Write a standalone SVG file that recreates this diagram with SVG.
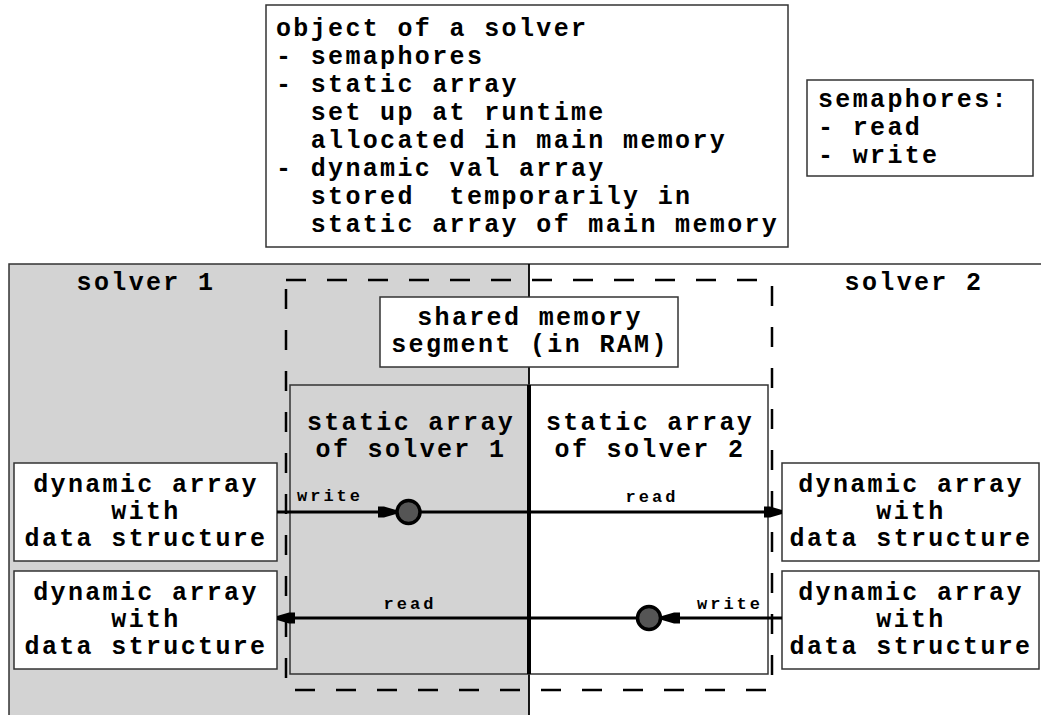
<svg xmlns="http://www.w3.org/2000/svg" width="1041" height="715" viewBox="0 0 1041 715">
<style>
text{font-family:"Liberation Mono","DejaVu Sans Mono",monospace;font-weight:bold;fill:#000}
.t{font-size:25px;letter-spacing:2.35px}
.c{text-anchor:middle}
.s{font-size:17px;letter-spacing:3px}
.box{fill:#fff;stroke:#333;stroke-width:1.5}
.conn{stroke:#000;stroke-width:3.2;fill:none}
.sem{fill:#555;stroke:#000;stroke-width:3.5}
</style>
<defs>
<marker id="arr" viewBox="0 0 18 12" refX="18" refY="6" markerWidth="18" markerHeight="12" markerUnits="userSpaceOnUse" orient="auto">
<path d="M0,0.5 L6,0.5 L18,4 L18,8 L6,11.5 L0,11.5 z" fill="#000"/>
</marker>
</defs>
<rect width="1041" height="715" fill="#fff"/>

<g id="solver1-area">
<rect x="9" y="264" width="520" height="460" fill="#d3d3d3"/>
<path d="M9,715 V264 H1045" fill="none" stroke="#333" stroke-width="1.5"/>
<line x1="529" y1="264" x2="529" y2="715" stroke="#000" stroke-width="1.8"/>
<text class="t c" x="146" y="290">solver 1</text>
</g>
<g id="solver2-area">
<text class="t c" x="914" y="290">solver 2</text>
</g>

<g id="shared-segment">
<rect x="286" y="280" width="486" height="410" fill="none" stroke="#000" stroke-width="2.5" stroke-dasharray="20 21"/>
</g>
<g id="shared-label">
<rect class="box" x="380" y="297" width="298" height="70"/>
<text class="t c" x="530" y="325">shared memory</text>
<text class="t c" x="530" y="352">segment (in RAM)</text>
</g>

<g id="static1">
<rect x="290" y="385" width="239" height="289" fill="#d3d3d3" stroke="#333" stroke-width="1.5"/>
<text class="t c" x="411" y="430">static array</text>
<text class="t c" x="411" y="457">of solver 1</text>
</g>
<g id="static2">
<rect x="529" y="385" width="239" height="289" fill="#fff" stroke="#333" stroke-width="1.5"/>
<text class="t c" x="650" y="430">static array</text>
<text class="t c" x="650" y="457">of solver 2</text>
</g>
<line x1="529" y1="385" x2="529" y2="674" stroke="#000" stroke-width="4"/>

<g id="object-box">
<rect class="box" x="266" y="5" width="522" height="242"/>
<text class="t" x="276" y="36" xml:space="preserve">object of a solver</text>
<text class="t" x="276" y="64" xml:space="preserve">- semaphores</text>
<text class="t" x="276" y="92" xml:space="preserve">- static array</text>
<text class="t" x="276" y="120" xml:space="preserve">  set up at runtime</text>
<text class="t" x="276" y="148" xml:space="preserve">  allocated in main memory</text>
<text class="t" x="276" y="176" xml:space="preserve">- dynamic val array</text>
<text class="t" x="276" y="204" xml:space="preserve">  stored  temporarily in</text>
<text class="t" x="276" y="232" xml:space="preserve">  static array of main memory</text>
</g>

<g id="semaphores-box">
<rect class="box" x="807" y="80" width="226" height="96"/>
<text class="t" x="818" y="107" xml:space="preserve">semaphores:</text>
<text class="t" x="818" y="135" xml:space="preserve">- read</text>
<text class="t" x="818" y="163" xml:space="preserve">- write</text>
</g>

<g id="dyn-left-top">
<rect class="box" x="14" y="463" width="263" height="98"/>
<text class="t c" x="146" y="492">dynamic array</text>
<text class="t c" x="146" y="519">with</text>
<text class="t c" x="146" y="546">data structure</text>
</g>
<g id="dyn-left-bottom">
<rect class="box" x="14" y="571" width="263" height="98"/>
<text class="t c" x="146" y="600">dynamic array</text>
<text class="t c" x="146" y="627">with</text>
<text class="t c" x="146" y="654">data structure</text>
</g>
<g id="dyn-right-top">
<rect class="box" x="782" y="463" width="257" height="98"/>
<text class="t c" x="911" y="492">dynamic array</text>
<text class="t c" x="911" y="519">with</text>
<text class="t c" x="911" y="546">data structure</text>
</g>
<g id="dyn-right-bottom">
<rect class="box" x="782" y="571" width="257" height="98"/>
<text class="t c" x="911" y="600">dynamic array</text>
<text class="t c" x="911" y="627">with</text>
<text class="t c" x="911" y="654">data structure</text>
</g>

<g id="connectors">
<path class="conn" d="M277,512 H396" marker-end="url(#arr)"/>
<path class="conn" d="M421,512 H782" marker-end="url(#arr)"/>
<path class="conn" d="M782,618 H662" marker-end="url(#arr)"/>
<path class="conn" d="M637,618 H277" marker-end="url(#arr)"/>
<text class="s" x="297" y="501">write</text>
<text class="s c" x="652" y="502">read</text>
<text class="s c" x="410" y="609">read</text>
<text class="s" x="697" y="609">write</text>
</g>

<g id="semaphore-write1">
<circle class="sem" cx="408.5" cy="512" r="11.5"/>
</g>
<g id="semaphore-write2">
<circle class="sem" cx="649" cy="618" r="11.5"/>
</g>
</svg>
